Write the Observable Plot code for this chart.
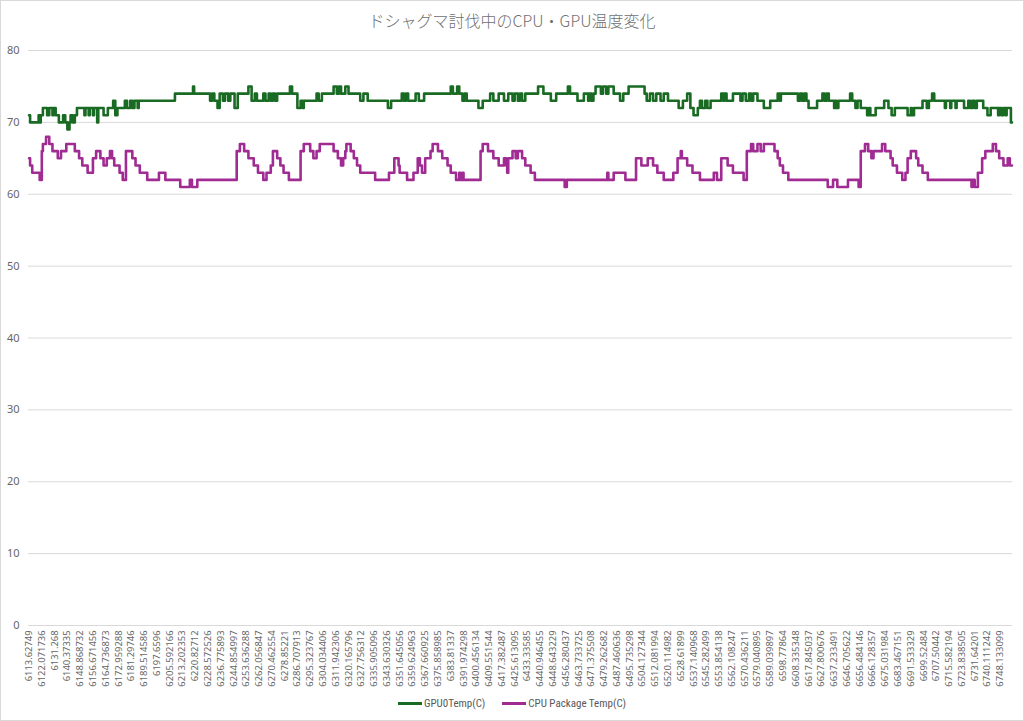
<!DOCTYPE html>
<html><head><meta charset="utf-8">
<script src="https://cdn.jsdelivr.net/npm/d3@7"></script>
<script src="https://cdn.jsdelivr.net/npm/@observablehq/plot@0.6"></script>
<style>
html,body{margin:0;padding:0;background:#fff;overflow:hidden}
#wrap{position:relative;width:1024px;height:721px;}
#frame{position:absolute;left:0;top:0;width:1024px;height:721px;box-sizing:border-box;border:1px solid #d9d9d9;pointer-events:none}
#title{position:absolute;left:0;top:0;width:1024px;height:40px;line-height:40px;text-align:center;font-size:16px;font-weight:300;font-family:"Noto Sans CJK JP","Noto Sans",sans-serif;color:#707070}
#chart{position:absolute;left:0;top:40px}
#legend{position:absolute;top:694px;left:0;width:1024px;height:18px;display:flex;justify-content:center;align-items:center;gap:17px;font-size:11px;font-stretch:condensed;font-family:"Roboto Condensed","Noto Sans",sans-serif;color:#595959}
.item{display:flex;align-items:center}
.sw{display:inline-block;width:24px;height:3px;margin-right:2px}
</style></head>
<body>
<div id="wrap">
  <div id="title">ドシャグマ討伐中のCPU・GPU温度変化</div>
  <div id="chart"></div>
  <div id="legend"></div>
  <div id="frame"></div>
</div>
<script>
const seriesNames = ["GPU0Temp(C)", "CPU Package Temp(C)"];
const seriesColors = ["#196B24", "#A02B93"];
const yTicks = [0, 10, 20, 30, 40, 50, 60, 70, 80];
const labelEvery = 12;
const sampleCount = 924;
const xLabels = ["6113.62749","6122.071736","6131.268","6140.37335","6148.868732","6156.671456","6164.736873","6172.959288","6181.29746","6189.514586","6197.6596","6205.592166","6213.202353","6220.82712","6228.572526","6236.775893","6244.854997","6253.636288","6262.056847","6270.462554","6278.85221","6286.707913","6295.323767","6304.034406","6311.942306","6320.165796","6327.756312","6335.905096","6343.630326","6351.645056","6359.624963","6367.660925","6375.858985","6383.81337","6391.974298","6400.456134","6409.551544","6417.382487","6425.613095","6433.33585","6440.946455","6448.643229","6456.280437","6463.733725","6471.375508","6479.262682","6487.460636","6495.735298","6504.127344","6512.081994","6520.114982","6528.61899","6537.140968","6545.282499","6553.854138","6562.108247","6570.436211","6579.040895","6589.039897","6598.77864","6608.335348","6617.845037","6627.800676","6637.233491","6646.705622","6656.484146","6666.128357","6675.031984","6683.467151","6691.533329","6699.52484","6707.50442","6715.582194","6723.838505","6731.64201","6740.111242","6748.133099"];

// [sample index where value changes, temperature]
const gpuSteps = [[0,71],[1,70],[9,71],[10,70],[11,71],[13,72],[17,71],[19,72],[22,71],[23,72],[25,71],[28,70],[32,71],[34,70],[36,69],[38,70],[39,71],[41,70],[43,71],[45,72],[52,71],[53,72],[56,71],[57,72],[60,71],[61,72],[64,70],[65,72],[70,71],[74,72],[79,73],[81,71],[83,72],[90,73],[92,72],[95,73],[97,72],[99,73],[102,72],[103,73],[137,74],[154,75],[155,74],[170,73],[172,74],[174,73],[177,72],[179,74],[182,73],[184,74],[187,73],[189,74],[193,72],[196,74],[206,75],[209,73],[212,74],[214,73],[220,74],[222,73],[225,74],[227,73],[229,74],[231,73],[233,74],[245,75],[247,74],[252,72],[255,73],[257,72],[258,73],[270,74],[272,73],[275,74],[286,75],[289,74],[291,75],[293,74],[297,75],[300,74],[311,73],[314,74],[318,73],[337,72],[340,73],[350,74],[352,73],[354,74],[356,73],[363,74],[366,73],[371,74],[396,75],[398,74],[402,75],[404,74],[407,73],[409,74],[411,73],[422,72],[426,73],[433,74],[436,73],[441,74],[446,73],[450,74],[454,73],[456,74],[459,73],[461,74],[463,73],[466,74],[478,75],[483,74],[490,73],[495,74],[506,75],[508,74],[515,73],[521,74],[525,73],[526,74],[528,73],[530,74],[532,75],[537,74],[539,75],[542,74],[544,75],[549,74],[555,73],[558,74],[563,75],[578,74],[580,73],[583,74],[586,73],[589,74],[593,73],[596,74],[600,73],[610,72],[614,73],[618,74],[621,72],[624,71],[628,72],[630,73],[632,72],[635,73],[637,72],[640,73],[650,74],[652,73],[653,74],[655,73],[661,74],[668,73],[670,74],[673,73],[676,74],[678,73],[680,74],[684,73],[690,72],[696,73],[703,74],[705,73],[706,74],[722,73],[724,74],[726,73],[728,74],[730,73],[732,72],[740,73],[745,74],[747,73],[749,74],[751,73],[756,72],[757,73],[758,72],[760,73],[771,74],[773,73],[776,72],[778,73],[781,72],[787,71],[789,72],[790,71],[795,72],[803,73],[807,72],[810,71],[813,72],[825,71],[828,72],[829,71],[831,72],[839,73],[843,72],[845,73],[848,74],[850,73],[860,72],[861,73],[865,72],[866,73],[870,72],[871,73],[878,72],[882,73],[884,72],[886,73],[888,72],[890,73],[896,72],[900,71],[903,72],[910,71],[911,72],[913,71],[915,72],[917,71],[918,72],[922,70],[923,70]];

const cpuSteps = [[0,65],[1,64],[3,63],[10,62],[12,66],[13,67],[16,68],[19,67],[22,66],[27,65],[30,66],[35,67],[43,66],[47,65],[50,64],[55,63],[60,65],[63,66],[67,65],[70,64],[73,65],[76,66],[78,65],[80,64],[85,63],[88,62],[91,66],[97,65],[100,64],[104,63],[111,62],[122,63],[128,62],[142,61],[151,62],[153,61],[158,62],[195,66],[198,67],[202,66],[206,65],[211,64],[215,63],[220,62],[223,63],[227,64],[229,66],[233,65],[236,64],[239,63],[244,62],[255,66],[258,67],[264,66],[267,65],[270,66],[273,67],[286,66],[290,65],[293,64],[295,65],[297,66],[298,67],[302,66],[305,65],[308,64],[311,63],[325,62],[338,63],[343,65],[347,64],[348,63],[355,62],[361,63],[365,65],[367,64],[369,63],[372,65],[377,66],[379,67],[384,66],[388,65],[393,64],[396,63],[401,62],[404,63],[405,62],[407,63],[408,62],[424,66],[426,67],[431,66],[436,65],[441,64],[446,65],[448,64],[449,63],[450,65],[454,66],[457,65],[459,66],[463,65],[466,64],[471,63],[475,62],[503,61],[505,62],[543,63],[544,62],[549,63],[560,62],[570,65],[575,64],[581,65],[586,64],[590,63],[596,62],[605,63],[609,65],[612,66],[613,65],[618,64],[623,63],[630,62],[643,63],[646,62],[650,65],[656,64],[661,63],[671,62],[674,66],[678,67],[680,66],[684,67],[687,66],[690,67],[700,66],[703,65],[705,64],[708,63],[713,62],[750,61],[755,62],[759,61],[769,62],[779,61],[781,66],[785,67],[788,66],[791,65],[793,66],[801,67],[804,66],[809,65],[811,64],[815,63],[820,62],[823,63],[825,65],[828,66],[833,65],[835,64],[839,63],[844,62],[885,61],[886,62],[888,61],[891,63],[895,65],[898,66],[905,67],[908,66],[911,65],[915,64],[919,65],[921,64],[923,64]];

const gpu = gpuSteps.map(([i, t]) => ({i, t}));
const cpu = cpuSteps.map(([i, t]) => ({i, t}));
const xTickPos = xLabels.map((_, k) => k * labelEvery);

const chart = Plot.plot({
  width: 1024, height: 655,
  marginTop: 10, marginBottom: 70, marginLeft: 28, marginRight: 12,
  style: {fontFamily: '"Noto Sans", "Noto Sans CJK JP", sans-serif', color: "#595959", background: "transparent"},
  x: {domain: [-0.5, sampleCount - 0.5], axis: null},
  y: {domain: [0, 80], axis: null},
  marks: [
    Plot.gridY(yTicks, {stroke: "#d9d9d9", strokeOpacity: 1, strokeWidth: 1}),
    Plot.axisY(yTicks, {tickSize: 0, tickPadding: 9, label: null, fontSize: 11, fill: "#666666"}),
    Plot.axisX(xTickPos, {tickSize: 0, tickPadding: 5, tickRotate: -90, label: null, fontSize: 9.4, fill: "#666666",
      fontFamily: '"Noto Sans", sans-serif',
      tickFormat: d => xLabels[Math.round(d / labelEvery)]}),
    Plot.line(cpu, {x: "i", y: "t", curve: "step-after", stroke: seriesColors[1], strokeWidth: 2.6}),
    Plot.line(gpu, {x: "i", y: "t", curve: "step-after", stroke: seriesColors[0], strokeWidth: 2.6})
  ]
});
document.getElementById("chart").appendChild(chart);

const legend = document.getElementById("legend");
seriesNames.forEach((name, k) => {
  const item = document.createElement("span");
  item.className = "item";
  const sw = document.createElement("span");
  sw.className = "sw";
  sw.style.background = seriesColors[k];
  item.appendChild(sw);
  item.appendChild(document.createTextNode(name));
  legend.appendChild(item);
});
</script>
</body></html>
